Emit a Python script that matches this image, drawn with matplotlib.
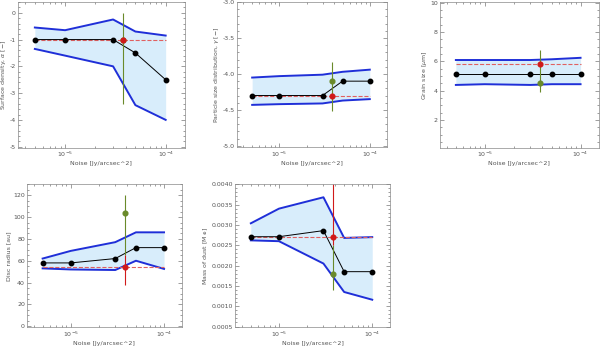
import matplotlib
matplotlib.use("Agg")
import matplotlib.pyplot as plt
import numpy as np

# noise levels (Jy/arcsec^2)
noise = [5e-6, 1e-5, 3e-5, 5e-5, 1e-4]
noise_obs = 3.8e-5

# surface density alpha
alpha_best = [-1, -1, -1, -1.5, -2.5]
alpha_hi = [-0.55, -0.65, -0.25, -0.7, -0.85]
alpha_lo = [-1.35, -1.6, -2.0, -3.45, -4.0]
alpha_true = -1.0
alpha_red, alpha_red_err = -1.0, (0.0, 0.0)
alpha_green, alpha_green_err = -1.0, (2.4, 1.0)

# particle size distribution gamma
gam_best = [-4.3, -4.3, -4.3, -4.1, -4.1]
gam_hi = [-4.05, -4.03, -4.01, -3.97, -3.94]
gam_lo = [-4.43, -4.42, -4.41, -4.37, -4.35]
gam_true = -4.3
gam_red, gam_red_err = -4.3, (0.0, 0.0)
gam_green, gam_green_err = -4.1, (0.42, 0.27)

# grain size
grain_best = [5.15, 5.15, 5.15, 5.15, 5.15]
grain_hi = [6.1, 6.1, 6.1, 6.15, 6.25]
grain_lo = [4.4, 4.45, 4.4, 4.45, 4.45]
grain_true = 5.85
grain_red, grain_red_err = 5.85, (0.0, 0.0)
grain_green, grain_green_err = 4.5, (0.6, 2.3)

# disc radius
rad_best = [58, 58, 62, 72, 72]
rad_hi = [62, 69, 77, 86, 86]
rad_lo = [53, 52, 51.5, 60, 52.5]
rad_true = 54
rad_red, rad_red_err = 54, (16, 11)
rad_green, rad_green_err = 104, (39, 16)

# dust mass
mass_best = [0.00271, 0.00271, 0.00286, 0.00185, 0.00185]
mass_hi = [0.00304, 0.0034, 0.00368, 0.00268, 0.00270]
mass_lo = [0.00262, 0.0026, 0.00205, 0.00135, 0.00116]
mass_true = 0.00271
mass_red, mass_red_err = 0.00271, (0.0002, 0.0013)
mass_green, mass_green_err = 0.0018, (0.0004, 0.0007)

gray = "#555555"
plt.rcParams["font.family"] = "DejaVu Sans"


def panel(rect, best, hi, lo, true, red, red_err, green, green_err, ylim, yticks, ylabel, fmt=None):
    ax = fig.add_axes(rect)
    ax.set_xscale("log")
    ax.fill_between(noise, lo, hi, color="#d8edfb", lw=0)
    ax.plot(noise, hi, color="#1f2fd8", lw=1.4)
    ax.plot(noise, lo, color="#1f2fd8", lw=1.4)
    ax.plot([noise[0], noise[-1]], [true, true], color="#e06060", ls="--", lw=0.8)
    ax.plot(noise, best, color="black", lw=0.7, marker="o", ms=3.2)
    ax.errorbar([noise_obs], [green], yerr=[[green_err[0]], [green_err[1]]],
                color="#6a8a2a", marker="o", ms=3.4, lw=0.8, capsize=0)
    ax.errorbar([noise_obs], [red], yerr=[[red_err[0]], [red_err[1]]],
                color="#d01a1a", marker="o", ms=3.4, lw=0.8, capsize=0)
    ax.set_xlim(3.4e-6, 1.55e-4)
    ax.set_ylim(*ylim)
    ax.set_yticks(yticks)
    if fmt:
        ax.set_yticklabels([fmt % v for v in yticks])
    ax.set_xticks([1e-5, 1e-4])
    ax.set_xticklabels([r"$10^{-5}$", r"$10^{-4}$"])
    ax.minorticks_on()
    ax.tick_params(which="both", direction="in", top=True, right=True,
                   labelsize=4.5, colors=gray, length=3, width=0.4, pad=1.5)
    ax.tick_params(which="minor", length=1.5)
    for s in ax.spines.values():
        s.set_color("#888888")
        s.set_linewidth(0.5)
    ax.set_xlabel("Noise [Jy/arcsec^2]", fontsize=4.5, color=gray, labelpad=1.5)
    ax.set_ylabel(ylabel, fontsize=4.5, color=gray, labelpad=1.0)
    return ax


fig = plt.figure(figsize=(6, 3.49), dpi=100)

panel([0.03, 0.576, 0.278, 0.418], alpha_best, alpha_hi, alpha_lo, alpha_true,
      alpha_red, alpha_red_err, alpha_green, alpha_green_err,
      (-5.05, 0.4), [-5, -4, -3, -2, -1, 0], r"Surface density, $\alpha$ [$-$]", "%d")
panel([0.395, 0.578, 0.25, 0.416], gam_best, gam_hi, gam_lo, gam_true,
      gam_red, gam_red_err, gam_green, gam_green_err,
      (-5.02, -3.0), [-5.0, -4.5, -4.0, -3.5, -3.0], r"Particle size distribution, $\gamma$ [$-$]", "%.1f")
panel([0.733, 0.576, 0.265, 0.418], grain_best, grain_hi, grain_lo, grain_true,
      grain_red, grain_red_err, grain_green, grain_green_err,
      (0.1, 10.05), [2, 4, 6, 8, 10], r"Grain size [$\mu$m]", "%d")
panel([0.045, 0.062, 0.258, 0.41], rad_best, rad_hi, rad_lo, rad_true,
      rad_red, rad_red_err, rad_green, rad_green_err,
      (-1, 130), [0, 20, 40, 60, 80, 100, 120], "Disc radius [au]", "%d")
panel([0.392, 0.062, 0.258, 0.41], mass_best, mass_hi, mass_lo, mass_true,
      mass_red, mass_red_err, mass_green, mass_green_err,
      (0.00048, 0.0040), [0.0005, 0.0010, 0.0015, 0.0020, 0.0025, 0.0030, 0.0035, 0.0040],
      r"Mass of dust [M$_\oplus$]", "%.4f")

fig.savefig("out.png", dpi=100)
